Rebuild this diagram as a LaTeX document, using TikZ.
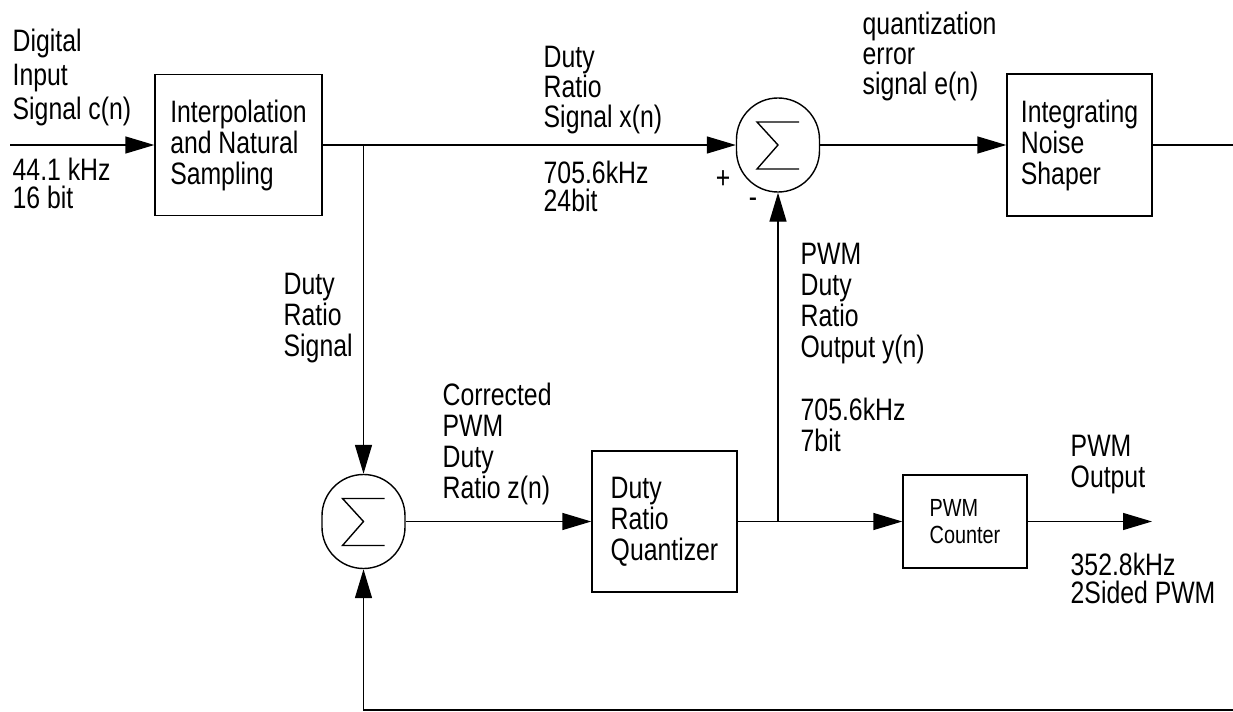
\documentclass[tikz,border=0pt]{standalone}
\usepackage{fontspec}
\setmainfont{Liberation Sans}[FakeStretch=0.8]
\usetikzlibrary{arrows.meta, positioning}

\begin{document}
\begin{tikzpicture}[
    x=0.5pt, y=-0.5pt,
    font=\fontsize{15.5}{15.5}\selectfont,
    line width=0.7pt,
    box/.style={rectangle, draw, align=left, inner sep=0pt,
                minimum width=72.5pt, minimum height=70.5pt},
    sumnode/.style={rectangle, draw, rounded corners=20.7pt, inner sep=0pt,
                minimum width=41.5pt, minimum height=47pt,
                path picture={\draw[sharp corners] ([shift={(10.5pt,11.5pt)}]path picture bounding box.center)
                  -- ++(-21pt,0pt) -- ++(10.5pt,-11.5pt) -- ++(-10.5pt,-12pt) -- ++(21pt,0pt);}},
    arr/.style={-{Triangle[length=14.5pt, width=8.5pt]}},
    lbl/.style={anchor=north west, align=left, inner sep=0pt},
    tight/.style={font=\fontsize{15.5}{14}\selectfont},
]
\useasboundingbox (0,0) rectangle (1233,712);

% --- upper row: input, interpolation, error sum, noise shaper ---
\coordinate (in) at (10,145);
\node[box, minimum width=83.5pt] (interp) at (238.5,145) {Interpolation\\and Natural\\Sampling};
\coordinate (split1) at (363.5,145);
\node[sumnode] (sumA) at (778,145) {};
\node[box, minimum height=71pt] (shaper) at (1079.5,145) {Integrating\\Noise\\Shaper};
\coordinate (shout) at (1233,145);

% --- lower row: correction sum, quantizer, counter ---
\node[sumnode] (sumB) at (363.5,521.5) {};
\node[box] (quant) at (664.5,521.5) {Duty\\Ratio\\Quantizer};
\coordinate (split2) at (778,521.5);
\node[box, minimum width=62pt, minimum height=46.5pt, font=\fontsize{12.4}{13.5}\selectfont] (counter) at (965,521.5) {PWM\\Counter};
\coordinate (pwmout) at (1152,521.5);
\coordinate (fbin) at (1233,710);

% --- signal labels ---
\node[lbl, font=\fontsize{15.5}{17}\selectfont] (cin) at (12,28) {Digital\\Input\\Signal c(n)};
\node[lbl, tight] (fin) at (12,157) {44.1 kHz\\16 bit};
\node[lbl, font=\fontsize{15.5}{15}\selectfont] (xlbl) at (543,45) {Duty\\Ratio\\Signal x(n)};
\node[lbl, tight] (xfreq) at (543,160) {705.6kHz\\24bit};
\node[lbl, font=\fontsize{15.5}{15}\selectfont] (elbl) at (862,11) {quantization\\error\\signal e(n)};
\node[inner sep=0pt] (plus) at (723,180) {+};
\node[inner sep=0pt] (minus) at (753,203) {-};
\node[lbl] (dlbl) at (283,272) {Duty\\Ratio\\Signal};
\node[lbl] (zlbl) at (442,382) {Corrected\\PWM\\Duty\\Ratio z(n)};
\node[lbl] (ylbl) at (800,242) {PWM\\Duty\\Ratio\\Output y(n)};
\node[lbl] (yfreq) at (800,397) {705.6kHz\\7bit};
\node[lbl] (olbl) at (1070,434) {PWM\\Output};
\node[lbl, tight] (ofreq) at (1070,552) {352.8kHz\\2Sided PWM};

% --- connectors ---
\draw[arr] (in) -- (interp);
\draw[arr] (interp) -- (sumA);
\draw[arr] (split1) -- (sumB);
\draw[arr] (sumA) -- (shaper);
\draw (shaper) -- (shout);
\draw[arr] (sumB) -- (quant);
\draw[arr] (quant) -- (counter);
\draw[arr] (split2) -- (sumA);
\draw[arr] (counter) -- (pwmout);
\draw[arr] (fbin) -| (sumB);
\end{tikzpicture}
\end{document}
